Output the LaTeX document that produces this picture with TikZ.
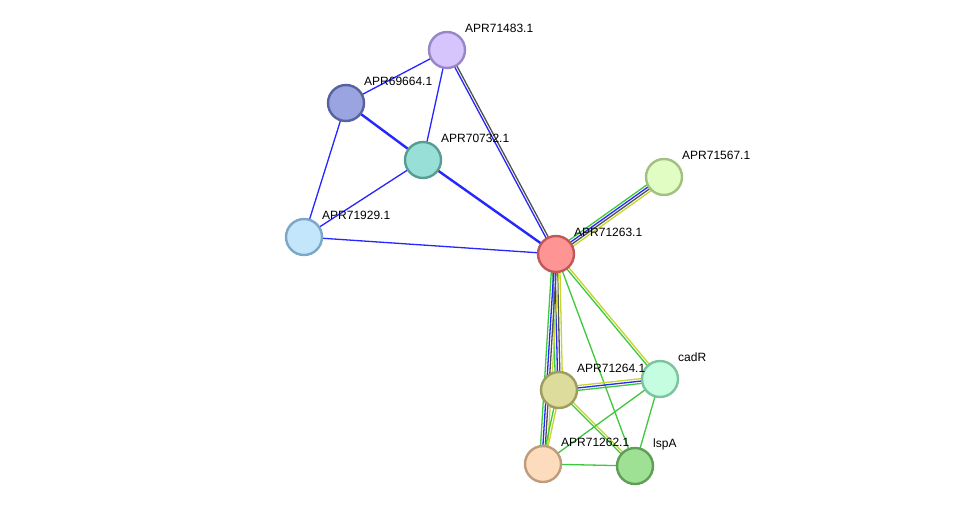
\documentclass[tikz,border=0pt]{standalone}
\usepackage{fontspec}
\setmainfont{Liberation Sans}
\usetikzlibrary{calc,backgrounds}
\definecolor{nbGreen}{HTML}{3DC83D}
\definecolor{coBlue}{HTML}{2626FF}
\definecolor{cxGray}{HTML}{505050}
\definecolor{tmYellow}{HTML}{C5D62E}

\begin{document}
\begin{tikzpicture}[x=1pt,y=-1pt,
  prot/.style={circle,draw,line width=2.4pt,minimum size=36pt,inner sep=0pt},
  plabel/.style={anchor=west,inner sep=0pt,font=\fontsize{12}{14}\selectfont},
  link/.style={line width=1.3pt}]
% proteins
\node[prot,fill={rgb,255:red,214;green,196;blue,252},draw={rgb,255:red,152;green,134;blue,200}] (p483) at (447,50) {};
\node[prot,fill={rgb,255:red,154;green,164;blue,224},draw={rgb,255:red,88;green,98;blue,158}] (p664) at (346,103) {};
\node[prot,fill={rgb,255:red,152;green,224;blue,215},draw={rgb,255:red,88;green,156;blue,148}] (p732) at (423,160) {};
\node[prot,fill={rgb,255:red,195;green,230;blue,251},draw={rgb,255:red,122;green,168;blue,198}] (p929) at (304,237) {};
\node[prot,fill={rgb,255:red,226;green,253;blue,195},draw={rgb,255:red,162;green,192;blue,128}] (p567) at (664,177) {};
\node[prot,fill={rgb,255:red,255;green,148;blue,148},draw={rgb,255:red,192;green,88;blue,88}] (p263) at (556,254) {};
\node[prot,fill={rgb,255:red,196;green,253;blue,224},draw={rgb,255:red,126;green,195;blue,160}] (cadR) at (660,379) {};
\node[prot,fill={rgb,255:red,222;green,220;blue,157},draw={rgb,255:red,158;green,156;blue,94}] (p264) at (559,390) {};
\node[prot,fill={rgb,255:red,253;green,219;blue,189},draw={rgb,255:red,192;green,156;blue,126}] (p262) at (543,464) {};
\node[prot,fill={rgb,255:red,158;green,224;blue,148},draw={rgb,255:red,94;green,158;blue,86}] (lspA) at (635,466) {};
% labels
\foreach \p/\t in {p483/APR71483.1,p664/APR69664.1,p732/APR70732.1,p929/APR71929.1,
  p567/APR71567.1,p263/APR71263.1,cadR/cadR,p264/APR71264.1,p262/APR71262.1,lspA/lspA}
  \node[plabel] (l\p) at ([shift={(18,-22)}]\p.center) {\t};
% edges, one line per evidence channel
\begin{scope}[on background layer]
\fill[white] (0,0) rectangle (975,512);
\foreach \a/\b/\c/\o/\w in {
  p483/p664/coBlue/0pt/1.3pt, p483/p732/coBlue/0pt/1.3pt,
  p483/p263/coBlue/-1.2pt/1.3pt, p483/p263/cxGray/1.2pt/1.3pt,
  p664/p732/coBlue/0pt/2.4pt, p664/p929/coBlue/0pt/1.3pt,
  p732/p929/coBlue/0pt/1.3pt, p732/p263/coBlue/0pt/2.4pt,
  p929/p263/coBlue/0pt/1.3pt,
  p567/p263/nbGreen/-3.6pt/1.3pt, p567/p263/coBlue/-1.2pt/1.3pt,
  p567/p263/cxGray/1.2pt/1.3pt, p567/p263/tmYellow/3.6pt/1.3pt,
  p263/p264/nbGreen/-3.6pt/1.3pt, p263/p264/coBlue/-1.2pt/1.3pt,
  p263/p264/cxGray/1.2pt/1.3pt, p263/p264/tmYellow/3.6pt/1.3pt,
  p263/p262/nbGreen/-3.6pt/1.3pt, p263/p262/coBlue/-1.2pt/1.3pt,
  p263/p262/cxGray/1.2pt/1.3pt, p263/p262/tmYellow/3.6pt/1.3pt,
  p263/cadR/nbGreen/-1.2pt/1.3pt, p263/cadR/tmYellow/1.2pt/1.3pt,
  p263/lspA/nbGreen/0pt/1.3pt,
  p264/cadR/nbGreen/-2.4pt/1.3pt, p264/cadR/coBlue/0pt/1.3pt,
  p264/cadR/tmYellow/2.4pt/1.3pt,
  p264/lspA/nbGreen/-1.2pt/1.3pt, p264/lspA/tmYellow/1.2pt/1.3pt,
  p264/p262/nbGreen/-1.2pt/1.3pt, p264/p262/tmYellow/1.2pt/1.3pt,
  cadR/p262/nbGreen/0pt/1.3pt, cadR/lspA/nbGreen/0pt/1.3pt,
  p262/lspA/nbGreen/0pt/1.3pt}
  \draw[link,\c,line width=\w] ($(\a.center)!\o!90:(\b.center)$) -- ($(\b.center)!\o!-90:(\a.center)$);
\end{scope}
\end{tikzpicture}
\end{document}
